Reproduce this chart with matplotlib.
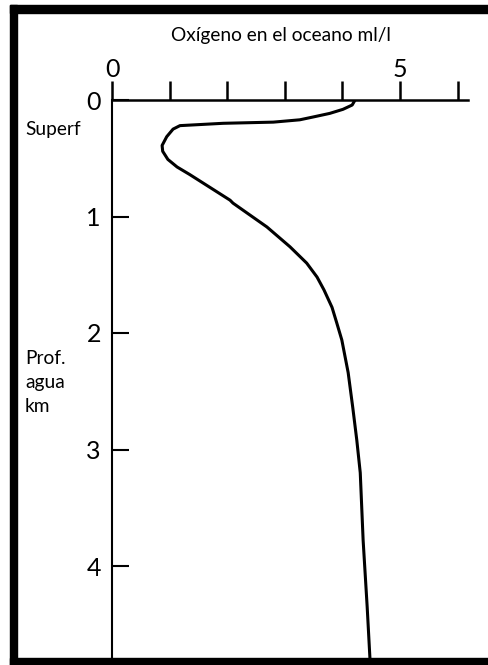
import matplotlib
matplotlib.use("Agg")
import matplotlib.pyplot as plt
from matplotlib.patches import Rectangle

# ==========================================
# DATA
# ==========================================
depth_km = [0.0, 0.043, 0.08, 0.115, 0.146, 0.17, 0.19, 0.20, 0.22, 0.25,
            0.315, 0.39, 0.44, 0.51, 0.575, 0.64, 0.75, 0.86, 0.885, 1.09,
            1.26, 1.40, 1.52, 1.63, 1.78, 1.91, 2.06, 2.34, 2.64, 2.92,
            3.20, 3.78, 4.35, 4.81]
oxygen_ml_l = [4.22, 4.17, 4.01, 3.78, 3.49, 3.26, 2.80, 1.93, 1.18, 1.06,
               0.95, 0.87, 0.88, 0.97, 1.13, 1.35, 1.70, 2.05, 2.10, 2.69,
               3.09, 3.38, 3.56, 3.68, 3.82, 3.90, 3.99, 4.10, 4.18, 4.25,
               4.31, 4.36, 4.43, 4.48]

x_ticks = [0, 1, 2, 3, 4, 5, 6]
x_tick_labels = ["0", "", "", "", "", "5", ""]
y_ticks = [0, 1, 2, 3, 4]
y_tick_labels = ["0", "1", "2", "3", "4"]

title_text = "Oxígeno en el oceano ml/l"
surface_text = "Superf"
depth_text = "Prof.\nagua\nkm"

FONT = ["Lato", "DejaVu Sans"]
W, H = 488, 665

# ==========================================
# FIGURE
# ==========================================
fig = plt.figure(figsize=(W / 100, H / 100), dpi=100)
fig.patch.set_facecolor("white")

# axes placed in pixel terms: x 112..468, y 100..658 (from top)
ax = fig.add_axes([112 / W, 1 - 658 / H, (468 - 112) / W, (658 - 100) / H])
ax.plot(oxygen_ml_l, depth_km, color="black", lw=2.2, solid_capstyle="round",
        solid_joinstyle="round")

ax.set_xlim(0, (468 - 112) / 57.6)
ax.set_ylim((658 - 100) / 116.5, 0)

for side in ["bottom", "right"]:
    ax.spines[side].set_visible(False)
ax.spines["top"].set_linewidth(1.8)
ax.spines["left"].set_linewidth(1.5)

ax.xaxis.tick_top()
ax.set_xticks(x_ticks)
ax.set_xticklabels(x_tick_labels, fontsize=18, family=FONT)
ax.tick_params(axis="x", direction="out", length=14, width=1.8, pad=0)

ax.set_yticks(y_ticks)
ax.set_yticklabels(y_tick_labels, fontsize=18, family=FONT)
ax.tick_params(axis="y", direction="in", length=12, width=1.5, pad=8)

# text labels
fig.text(281 / W, 1 - 35 / H, title_text, ha="center", va="center",
         fontsize=13.8, family=FONT)
fig.text(25 / W, 1 - 130 / H, surface_text, ha="left", va="center",
         fontsize=13.8, family=FONT)
fig.text(25 / W, 1 - 350 / H, depth_text, ha="left", va="top",
         fontsize=13.8, family=FONT, linespacing=1.5)

# black frame (left, top and bottom edges)
frame = dict(color="black", transform=fig.transFigure, clip_on=False)
fig.patches.append(Rectangle((10 / W, 0), 7 / W, 1 - 5 / H, **frame))
fig.patches.append(Rectangle((10 / W, 1 - 13 / H), 1 - 10 / W, 8 / H, **frame))
fig.patches.append(Rectangle((10 / W, 0), 1 - 10 / W, 7 / H, **frame))

fig.savefig("out.png", dpi=100)
